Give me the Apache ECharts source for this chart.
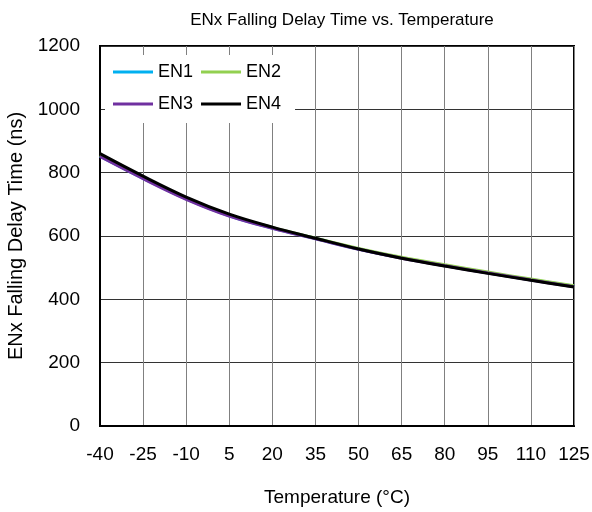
<!DOCTYPE html>
<html>
<head>
<meta charset="utf-8">
<script src="https://cdn.jsdelivr.net/npm/echarts@6/dist/echarts.min.js"></script>
<style>html,body{margin:0;padding:0;background:#fff;}#c{width:592px;height:512px;}</style>
</head>
<body>
<div id="c"></div>
<script>
const temps = ['-40','-25','-10','5','20','35','50','65','80','95','110','125'];
const en1 = [852, 782, 717, 664, 625, 592, 559, 531, 507, 484, 462, 441];
const en2 = [855, 785, 720, 666, 627, 593, 561, 533, 509, 486, 464, 443];
const en3 = [851, 781, 716, 663, 624, 591, 558, 530, 506, 483, 461, 440];
const en4 = [860, 789, 723, 669, 628, 593, 559, 530, 505, 482, 460, 439];
const yTicks = {min: 0, max: 1200, interval: 200};

const FONT = 'Liberation Sans, Arial, sans-serif';
const chart = echarts.init(document.getElementById('c'), null, {renderer: 'canvas'});
const mk = (name, data, color) => ({
  name, type: 'line', data, smooth: 0.35, showSymbol: false, symbol: 'none',
  lineStyle: {color, width: 3}, itemStyle: {color}, animation: false
});
const legendCommon = {
  orient: 'horizontal', icon: 'rect', itemWidth: 40, itemHeight: 3, itemGap: 8,
  backgroundColor: '#fff', textStyle: {fontFamily: FONT, fontSize: 18, color: '#000'},
  left: 105
};
chart.setOption({
  animation: false,
  backgroundColor: '#fff',
  title: {
    text: 'ENx Falling Delay Time vs. Temperature', left: 337, top: 7, textAlign: 'center',
    textStyle: {fontFamily: FONT, fontSize: 17, fontWeight: 'normal', color: '#000'}
  },
  legend: [
    Object.assign({}, legendCommon, {data: ['EN1', 'EN2'], top: 55, padding: [8, 14, 7, 8]}),
    Object.assign({}, legendCommon, {data: ['EN3', 'EN4'], top: 88, padding: [7, 14, 10, 8]})
  ],
  grid: {left: 100, right: 18, top: 46, bottom: 86, show: true, borderColor: '#000', borderWidth: 2,
         backgroundColor: 'transparent', containLabel: false, outerBoundsMode: 'none'},
  xAxis: {
    type: 'category', data: temps, boundaryGap: false,
    name: 'Temperature (°C)', nameLocation: 'middle', nameGap: 62,
    nameTextStyle: {fontFamily: FONT, fontSize: 19, color: '#000'},
    axisLine: {lineStyle: {color: '#000', width: 2}},
    axisTick: {show: false},
    axisLabel: {fontFamily: FONT, fontSize: 19, color: '#000', margin: 19, interval: 0},
    splitLine: {show: true, lineStyle: {color: '#808080', width: 1}}
  },
  yAxis: {
    type: 'value', min: yTicks.min, max: yTicks.max, interval: yTicks.interval,
    name: 'ENx Falling Delay Time (ns)', nameLocation: 'middle', nameGap: 72,
    nameTextStyle: {fontFamily: FONT, fontSize: 20, color: '#000'},
    axisLine: {show: true, lineStyle: {color: '#000', width: 2}},
    axisTick: {show: false},
    axisLabel: {fontFamily: FONT, fontSize: 19, color: '#000', margin: 20, formatter: v => String(v)},
    splitLine: {show: true, lineStyle: {color: '#333', width: 1}}
  },
  series: [
    mk('EN1', en1, '#00B0F0'),
    mk('EN2', en2, '#92D050'),
    mk('EN3', en3, '#7030A0'),
    mk('EN4', en4, '#000000')
  ]
});
</script>
</body>
</html>
